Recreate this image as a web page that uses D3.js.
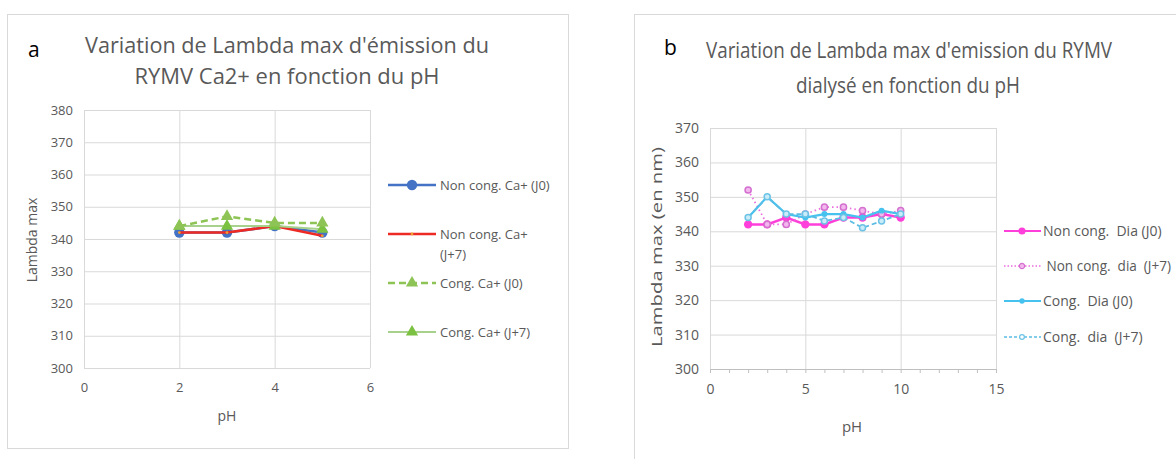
<!DOCTYPE html>
<meta charset="utf-8">
<script src="https://cdn.jsdelivr.net/npm/d3@7"></script>
<style>
body { margin: 0; background: #fff; }
svg text { font-family: "Open Sans", sans-serif; fill: #595959; }
.tick text { fill: #595959; font-size: 13px; }
.panelb .tick text { font-size: 14px; }
.grid line { stroke: #d9d9d9; }
.domain { display: none; }
</style>
<body>
<script>

// ---- panel a : RYMV Ca2+ ----
var phA = [2, 3, 4, 5];
var nonCongJ0A = [342, 342, 344, 342];
var nonCongJ7A = [342, 342, 344, 341];
var congJ0A    = [344, 347, 345, 345];
var congJ7A    = [344, 344, 344, 343];
var xTicksA = [0, 2, 4, 6];
var yTicksA = [300, 310, 320, 330, 340, 350, 360, 370, 380];
var legendA = [["Non cong. Ca+ (J0)"], ["Non cong. Ca+", "(J+7)"], ["Cong. Ca+ (J0)"], ["Cong. Ca+ (J+7)"]];

// ---- panel b : RYMV dialysé ----
var phB = [2, 3, 4, 5, 6, 7, 8, 9, 10];
var nonCongJ0B = [342, 342, 344, 342, 342, 344, 344, 345, 344];
var nonCongJ7B = [352, 342, 342, 345, 347, 347, 346, 345, 346];
var congJ0B    = [344, 350, 345, 344, 345, 345, 344, 346, 345];
var congJ7B    = [344, 350, 345, 345, 343, 344, 341, 343, 345];
var xTicksB = [0, 5, 10, 15];
var yTicksB = [300, 310, 320, 330, 340, 350, 360, 370];
var legendB = ["Non cong.  Dia (J0)", " Non cong.  dia  (J+7)", "Cong.  Dia (J0)", "Cong.  dia  (J+7)"];

var svg = d3.select("body").append("svg")
    .attr("width", 1176)
    .attr("height", 459);

// panel frames
svg.append("rect").attr("x", 7.5).attr("y", 14.5).attr("width", 561).attr("height", 434)
    .attr("fill", "none").attr("stroke", "#d9d9d9");
svg.append("rect").attr("x", 634.5).attr("y", 14.5).attr("width", 600).attr("height", 460)
    .attr("fill", "none").attr("stroke", "#d9d9d9");

// draws grid + axes of one panel and returns the scales
function frame(g, xd, yd, xr, yr, xt, yt) {
  var x = d3.scaleLinear().domain(xd).range(xr);
  var y = d3.scaleLinear().domain(yd).range(yr);
  g.append("g").attr("class", "grid")
    .attr("transform", "translate(0," + yr[0] + ")")
    .call(d3.axisBottom(x).tickValues(xt).tickSize(yr[1] - yr[0]).tickFormat(""));
  g.append("g").attr("class", "grid")
    .attr("transform", "translate(" + xr[0] + ",0)")
    .call(d3.axisLeft(y).tickValues(yt).tickSize(xr[0] - xr[1]).tickFormat(""));
  g.append("g").attr("transform", "translate(0," + (yr[0] + 12) + ")")
    .call(d3.axisBottom(x).tickValues(xt).tickSize(0).tickFormat(d3.format("d")));
  g.append("g").attr("transform", "translate(" + (xr[0] - 8) + ",0)")
    .call(d3.axisLeft(y).tickValues(yt).tickSize(0));
  g.selectAll(".tick text").attr("font-family", "Open Sans");
  return {x: x, y: y};
}

function series(g, s, xs, ys, color, width, dash) {
  var pts = xs.map(function(d, i) { return [d, ys[i]]; });
  var line = d3.line().x(function(d) { return s.x(d[0]); }).y(function(d) { return s.y(d[1]); });
  g.append("path").datum(pts)
    .attr("fill", "none").attr("stroke", color).attr("stroke-width", width)
    .attr("stroke-dasharray", dash || null).attr("d", line);
  return pts;
}

function markers(g, s, pts, type, size, fill, stroke) {
  g.selectAll(null).data(pts).enter().append("path")
    .attr("transform", function(d) { return "translate(" + s.x(d[0]) + "," + s.y(d[1]) + ")"; })
    .attr("d", d3.symbol().type(type).size(size))
    .attr("fill", fill).attr("stroke", stroke || "none").attr("stroke-width", 1.5);
}

// ================= panel a =================
var ga = svg.append("g");
var sa = frame(ga, [0, 6], [300, 380], [84, 370], [368, 110], xTicksA, yTicksA);

var pA1 = series(ga, sa, phA, nonCongJ0A, "#4472c4", 2.5);
markers(ga, sa, pA1, d3.symbolCircle, 85, "#4472c4");
var pA2 = series(ga, sa, phA, nonCongJ7A, "#ee2a24", 2.5);
markers(ga, sa, pA2, d3.symbolCircle, 6, "#f0a030");
var pA4 = series(ga, sa, phA, congJ7A, "#a9d18e", 2);
markers(ga, sa, pA4, d3.symbolTriangle, 65, "#7cc242");
var pA3 = series(ga, sa, phA, congJ0A, "#8dc455", 2.5, "7,4");
markers(ga, sa, pA3, d3.symbolTriangle, 65, "#8dc455");

ga.append("text").attr("x", 28).attr("y", 57).attr("font-size", 21).style("fill", "#000").text("a");
ga.append("text").attr("x", 287).attr("y", 53).attr("text-anchor", "middle").attr("font-size", 21)
  .attr("textLength", 404).attr("lengthAdjust", "spacingAndGlyphs")
  .text("Variation de Lambda max d'émission du");
ga.append("text").attr("x", 287).attr("y", 84).attr("text-anchor", "middle").attr("font-size", 21)
  .attr("textLength", 305).attr("lengthAdjust", "spacingAndGlyphs")
  .text("RYMV Ca2+ en fonction du pH");
ga.append("text").attr("transform", "translate(37,240) rotate(-90)").attr("text-anchor", "middle")
  .attr("font-size", 14).text("Lambda max");
ga.append("text").attr("x", 227).attr("y", 421).attr("text-anchor", "middle").attr("font-size", 14).text("pH");

// legend a
var legA = [
  {c: "#4472c4", w: 2.5, dash: null, sym: d3.symbolCircle, size: 85, fill: "#4472c4"},
  {c: "#ee2a24", w: 2.5, dash: null, sym: d3.symbolCircle, size: 6, fill: "#f0a030"},
  {c: "#8dc455", w: 2.5, dash: "7,4", sym: d3.symbolTriangle, size: 65, fill: "#8dc455"},
  {c: "#a9d18e", w: 2, dash: null, sym: d3.symbolTriangle, size: 65, fill: "#7cc242"}
];
var legAy = [185, 234, 283, 332];
legA.forEach(function(d, i) {
  var y = legAy[i];
  ga.append("line").attr("x1", 388).attr("x2", 436).attr("y1", y).attr("y2", y)
    .attr("stroke", d.c).attr("stroke-width", d.w).attr("stroke-dasharray", d.dash);
  ga.append("path").attr("transform", "translate(412," + y + ")")
    .attr("d", d3.symbol().type(d.sym).size(d.size)).attr("fill", d.fill);
  legendA[i].forEach(function(t, j) {
    ga.append("text").attr("x", 440).attr("y", y + 5 + j * 20).attr("font-size", 13).text(t);
  });
});

// ================= panel b =================
var gb = svg.append("g").attr("class", "panelb");
var sb = frame(gb, [0, 15], [300, 370], [710, 996], [369, 128], xTicksB, yTicksB);
// minor ticks on the x axis
gb.append("g").attr("transform", "translate(0,369)")
  .call(d3.axisBottom(sb.x).ticks(15).tickSize(4).tickFormat(""))
  .selectAll("line").attr("stroke", "#bfbfbf");
gb.append("line").attr("x1", 710).attr("x2", 996).attr("y1", 369.5).attr("y2", 369.5).attr("stroke", "#bfbfbf");

var pB1 = series(gb, sb, phB, nonCongJ0B, "#ff3fd9", 2.5);
markers(gb, sb, pB1, d3.symbolCircle, 55, "#ff3fd9");
var pB2 = series(gb, sb, phB, nonCongJ7B, "#ec6ee0", 1.8, "1.5,3");
markers(gb, sb, pB2, d3.symbolCircle, 30, "#f2b8ee", "#d46fcf");
var pB3 = series(gb, sb, phB, congJ0B, "#47c1ee", 2.2);
markers(gb, sb, pB3, d3.symbolCircle, 28, "#47c1ee");
var pB4 = series(gb, sb, phB, congJ7B, "#5bbde4", 1.8, "5,3");
markers(gb, sb, pB4, d3.symbolCircle, 28, "#c9ecf8", "#6cc3e6");

gb.append("text").attr("x", 664).attr("y", 55).attr("font-size", 21).style("fill", "#000").text("b");
gb.append("text").attr("x", 909).attr("y", 58).attr("text-anchor", "middle").attr("font-size", 21)
  .attr("textLength", 406).attr("lengthAdjust", "spacingAndGlyphs")
  .text("Variation de Lambda max d'emission du RYMV");
gb.append("text").attr("x", 908).attr("y", 93).attr("text-anchor", "middle").attr("font-size", 21)
  .attr("textLength", 224).attr("lengthAdjust", "spacingAndGlyphs")
  .text("dialysé en fonction du pH");
gb.append("text").attr("transform", "translate(662,247) rotate(-90)").attr("text-anchor", "middle")
  .attr("font-size", 15).attr("textLength", 200).attr("lengthAdjust", "spacingAndGlyphs")
  .text("Lambda max (en nm)");
gb.append("text").attr("x", 852).attr("y", 432).attr("text-anchor", "middle").attr("font-size", 15).text("pH");

// legend b
var legB = [
  {c: "#ff3fd9", w: 2, dash: null, size: 40, fill: "#ff3fd9", stroke: "none"},
  {c: "#ec6ee0", w: 1.5, dash: "1.5,2", size: 22, fill: "#f2b8ee", stroke: "#d46fcf"},
  {c: "#47c1ee", w: 2, dash: null, size: 22, fill: "#47c1ee", stroke: "none"},
  {c: "#5bbde4", w: 1.5, dash: "3,2", size: 18, fill: "#fff", stroke: "#6cc3e6"}
];
var legBy = [231, 266, 301, 337];
legB.forEach(function(d, i) {
  var y = legBy[i];
  gb.append("line").attr("x1", 1004).attr("x2", 1041).attr("y1", y).attr("y2", y)
    .attr("stroke", d.c).attr("stroke-width", d.w).attr("stroke-dasharray", d.dash);
  gb.append("path").attr("transform", "translate(1022," + y + ")")
    .attr("d", d3.symbol().type(d3.symbolCircle).size(d.size))
    .attr("fill", d.fill).attr("stroke", d.stroke).attr("stroke-width", 1.2);
  gb.append("text").attr("x", 1043).attr("y", y + 5).attr("font-size", 14)
    .attr("textLength", i === 1 ? 128 : null).attr("lengthAdjust", "spacingAndGlyphs")
    .style("white-space", "pre").text(legendB[i]);
});

</script>
</body>
</html>
